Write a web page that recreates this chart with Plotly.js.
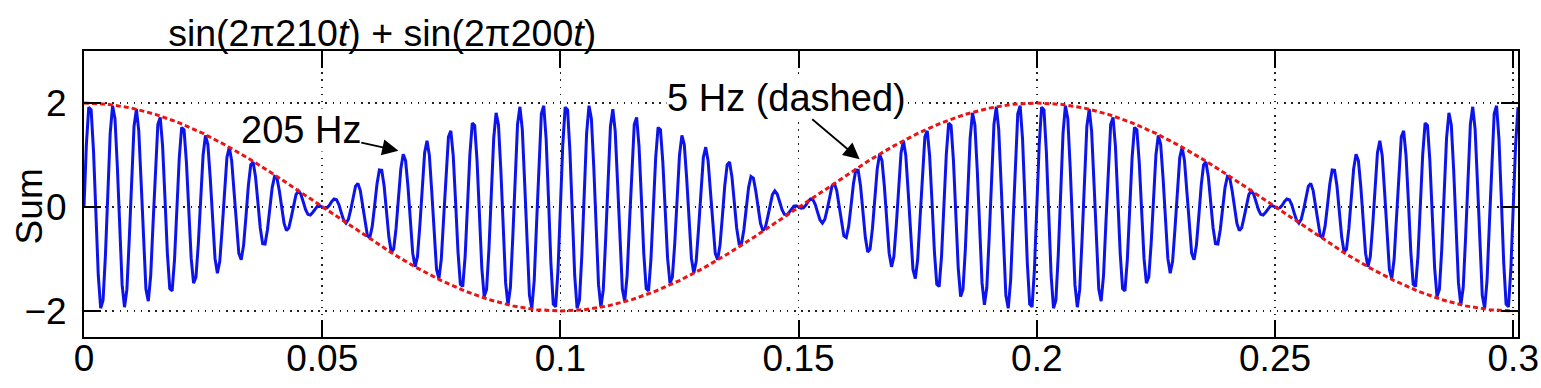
<!DOCTYPE html>
<html>
<head>
<meta charset="utf-8">
<script src="https://cdn.plot.ly/plotly-3.0.1.min.js"></script>
<style>html,body{margin:0;padding:0;background:#fff;}#chart{width:1541px;height:388px;}</style>
</head>
<body>
<div id="chart"></div>
<script>
const sumSeg1 = [
0, 1.201, 1.920, 1.869, 1.070, -0.156, -1.317, -1.947, -1.795, -0.927,
0.309, 1.415, 1.949, 1.701, 0.775, -0.454, -1.493, -1.927, -1.589, -0.619,
0.588, 1.548, 1.881, 1.460, 0.463, -0.707, -1.580, -1.812, -1.319, -0.309,
0.809, 1.587, 1.722, 1.169, 0.162, -0.891, -1.570, -1.612, -1.014, -0.026,
0.951, 1.529, 1.487, 0.857, -0.097, -0.988, -1.464, -1.348, -0.702, 0.202,
1.000, 1.378, 1.200, 0.554, -0.289, -0.988, -1.272, -1.045, -0.415, 0.353,
0.951, 1.150, 0.888, 0.290, -0.395, -0.891, -1.014, -0.733, -0.181, 0.412,
0.809, 0.867, 0.583, 0.090, -0.404, -0.707, -0.713, -0.442, -0.021, 0.373,
0.588, 0.556, 0.314, -0.025, -0.317, -0.454, -0.400, -0.201, 0.047, 0.239,
0.309, 0.249, 0.107, -0.045, -0.141, -0.156, -0.106, -0.033, 0.017, 0.025,
0, -0.025, -0.017, 0.033, 0.106, 0.156, 0.141, 0.045, -0.107, -0.249,
-0.309, -0.239, -0.047, 0.201, 0.400, 0.454, 0.317, 0.025, -0.314, -0.556,
-0.588, -0.373, 0.021, 0.442, 0.713, 0.707, 0.404, -0.090, -0.583, -0.867,
-0.809, -0.412, 0.181, 0.733, 1.014, 0.891, 0.395, -0.290, -0.888, -1.150,
-0.951, -0.353, 0.415, 1.045, 1.272, 0.988, 0.289, -0.554, -1.200, -1.378,
-1.000, -0.202, 0.702, 1.348, 1.464, 0.988, 0.097, -0.857, -1.487, -1.529,
-0.951, 0.026, 1.014, 1.612, 1.570, 0.891, -0.162, -1.169, -1.722, -1.587,
-0.809, 0.309, 1.319, 1.812, 1.580, 0.707, -0.463, -1.460, -1.881, -1.548,
-0.588, 0.619, 1.589, 1.927, 1.493, 0.454, -0.775, -1.701, -1.949, -1.415,
-0.309, 0.927, 1.795, 1.947, 1.317, 0.156, -1.070, -1.869, -1.920, -1.201
];
// t = 0.1 ... 0.2 s
const sumSeg2 = [
0, 1.201, 1.920, 1.869, 1.070, -0.156, -1.317, -1.947, -1.795, -0.927,
0.309, 1.415, 1.949, 1.701, 0.775, -0.454, -1.493, -1.927, -1.589, -0.619,
0.588, 1.548, 1.881, 1.460, 0.463, -0.707, -1.580, -1.812, -1.319, -0.309,
0.809, 1.587, 1.722, 1.169, 0.162, -0.891, -1.570, -1.612, -1.014, -0.026,
0.951, 1.529, 1.487, 0.857, -0.097, -0.988, -1.464, -1.348, -0.702, 0.202,
1.000, 1.378, 1.200, 0.554, -0.289, -0.988, -1.272, -1.045, -0.415, 0.353,
0.951, 1.150, 0.888, 0.290, -0.395, -0.891, -1.014, -0.733, -0.181, 0.412,
0.809, 0.867, 0.583, 0.090, -0.404, -0.707, -0.713, -0.442, -0.021, 0.373,
0.588, 0.556, 0.314, -0.025, -0.317, -0.454, -0.400, -0.201, 0.047, 0.239,
0.309, 0.249, 0.107, -0.045, -0.141, -0.156, -0.106, -0.033, 0.017, 0.025,
0, -0.025, -0.017, 0.033, 0.106, 0.156, 0.141, 0.045, -0.107, -0.249,
-0.309, -0.239, -0.047, 0.201, 0.400, 0.454, 0.317, 0.025, -0.314, -0.556,
-0.588, -0.373, 0.021, 0.442, 0.713, 0.707, 0.404, -0.090, -0.583, -0.867,
-0.809, -0.412, 0.181, 0.733, 1.014, 0.891, 0.395, -0.290, -0.888, -1.150,
-0.951, -0.353, 0.415, 1.045, 1.272, 0.988, 0.289, -0.554, -1.200, -1.378,
-1.000, -0.202, 0.702, 1.348, 1.464, 0.988, 0.097, -0.857, -1.487, -1.529,
-0.951, 0.026, 1.014, 1.612, 1.570, 0.891, -0.162, -1.169, -1.722, -1.587,
-0.809, 0.309, 1.319, 1.812, 1.580, 0.707, -0.463, -1.460, -1.881, -1.548,
-0.588, 0.619, 1.589, 1.927, 1.493, 0.454, -0.775, -1.701, -1.949, -1.415,
-0.309, 0.927, 1.795, 1.947, 1.317, 0.156, -1.070, -1.869, -1.920, -1.201
];
// t = 0.2 ... 0.301 s
const sumSeg3 = [
0, 1.201, 1.920, 1.869, 1.070, -0.156, -1.317, -1.947, -1.795, -0.927,
0.309, 1.415, 1.949, 1.701, 0.775, -0.454, -1.493, -1.927, -1.589, -0.619,
0.588, 1.548, 1.881, 1.460, 0.463, -0.707, -1.580, -1.812, -1.319, -0.309,
0.809, 1.587, 1.722, 1.169, 0.162, -0.891, -1.570, -1.612, -1.014, -0.026,
0.951, 1.529, 1.487, 0.857, -0.097, -0.988, -1.464, -1.348, -0.702, 0.202,
1.000, 1.378, 1.200, 0.554, -0.289, -0.988, -1.272, -1.045, -0.415, 0.353,
0.951, 1.150, 0.888, 0.290, -0.395, -0.891, -1.014, -0.733, -0.181, 0.412,
0.809, 0.867, 0.583, 0.090, -0.404, -0.707, -0.713, -0.442, -0.021, 0.373,
0.588, 0.556, 0.314, -0.025, -0.317, -0.454, -0.400, -0.201, 0.047, 0.239,
0.309, 0.249, 0.107, -0.045, -0.141, -0.156, -0.106, -0.033, 0.017, 0.025,
0, -0.025, -0.017, 0.033, 0.106, 0.156, 0.141, 0.045, -0.107, -0.249,
-0.309, -0.239, -0.047, 0.201, 0.400, 0.454, 0.317, 0.025, -0.314, -0.556,
-0.588, -0.373, 0.021, 0.442, 0.713, 0.707, 0.404, -0.090, -0.583, -0.867,
-0.809, -0.412, 0.181, 0.733, 1.014, 0.891, 0.395, -0.290, -0.888, -1.150,
-0.951, -0.353, 0.415, 1.045, 1.272, 0.988, 0.289, -0.554, -1.200, -1.378,
-1.000, -0.202, 0.702, 1.348, 1.464, 0.988, 0.097, -0.857, -1.487, -1.529,
-0.951, 0.026, 1.014, 1.612, 1.570, 0.891, -0.162, -1.169, -1.722, -1.587,
-0.809, 0.309, 1.319, 1.812, 1.580, 0.707, -0.463, -1.460, -1.881, -1.548,
-0.588, 0.619, 1.589, 1.927, 1.493, 0.454, -0.775, -1.701, -1.949, -1.415,
-0.309, 0.927, 1.795, 1.947, 1.317, 0.156, -1.070, -1.869, -1.920, -1.201,
0, 1.201, 1.920
];
const sumStart = 0, sumStep = 0.0005;

// 5 Hz envelope (dashed), 5 ms spacing
const envValues = [
2, 1.975, 1.902, 1.782, 1.618, 1.414, 1.176, 0.908, 0.618, 0.313,
0, -0.313, -0.618, -0.908, -1.176, -1.414, -1.618, -1.782, -1.902, -1.975,
-2, -1.975, -1.902, -1.782, -1.618, -1.414, -1.176, -0.908, -0.618, -0.313,
0, 0.313, 0.618, 0.908, 1.176, 1.414, 1.618, 1.782, 1.902, 1.975,
2, 1.975, 1.902, 1.782, 1.618, 1.414, 1.176, 0.908, 0.618, 0.313,
0, -0.313, -0.618, -0.908, -1.176, -1.414, -1.618, -1.782, -1.902, -1.975,
-2
];
const envStart = 0, envStep = 0.005;

const xTickVals = [0, 0.05, 0.1, 0.15, 0.2, 0.25, 0.3];
const xTickText = ['0', '0.05', '0.1', '0.15', '0.2', '0.25', '0.3'];
const yTickVals = [-2, 0, 2];
const yTickText = ['\u22122', '0', '2'];

const FONT = 'Liberation Sans, Arial, Helvetica, sans-serif';
const sumValues = sumSeg1.concat(sumSeg2, sumSeg3);

const traces = [
  {type: 'scatter', mode: 'lines', x0: sumStart, dx: sumStep, y: sumValues,
   line: {color: 'rgb(12,20,235)', width: 3}, hoverinfo: 'skip', showlegend: false},
  {type: 'scatter', mode: 'lines', x0: envStart, dx: envStep, y: envValues,
   line: {color: 'rgb(235,20,20)', width: 3, dash: '5px,3px'}, hoverinfo: 'skip', showlegend: false}
];

const axisCommon = {
  showline: true, linecolor: '#000', linewidth: 2, mirror: 'allticks',
  ticks: 'inside', ticklen: 17, tickwidth: 2, tickcolor: '#000',
  showgrid: true, gridcolor: '#222', gridwidth: 1.6, griddash: '1.6px,5.5px',
  zeroline: false, tickfont: {family: FONT, size: 37, color: '#000'}
};

const layout = {
  width: 1541, height: 388,
  margin: {l: 84, r: 23, t: 51, b: 51},
  paper_bgcolor: '#fff', plot_bgcolor: '#fff',
  title: {text: 'sin(2\u03c0210<i>t</i>) + sin(2\u03c0200<i>t</i>)',
          xref: 'container', x: 0.248, xanchor: 'center',
          yref: 'container', y: 0.915, yanchor: 'middle',
          font: {family: FONT, size: 37.5, color: '#000'}},
  xaxis: Object.assign({}, axisCommon, {range: [0, 0.301], tickmode: 'array', tickvals: xTickVals, ticktext: xTickText, ticklabelstandoff: -12}),
  yaxis: Object.assign({}, axisCommon, {range: [-2.5, 3], tickmode: 'array', tickvals: yTickVals, ticktext: yTickText, ticklabelstandoff: 8}),
  annotations: [
    {xref: 'paper', yref: 'paper', x: -0.038, y: 0.455, text: 'Sum', textangle: -90,
     showarrow: false, xanchor: 'center', yanchor: 'middle', font: {family: FONT, size: 37, color: '#000'}},
    {xref: 'x', yref: 'y', x: 0.0660, y: 1.08, axref: 'x', ayref: 'y', ax: 0.0455, ay: 1.49,
     text: '205 Hz', showarrow: true, arrowhead: 2, arrowsize: 1.8, arrowwidth: 1.8, arrowcolor: '#000',
     bgcolor: '#fff', borderpad: 0, font: {family: FONT, size: 38, color: '#000'}},
    {xref: 'x', yref: 'y', x: 0.1628, y: 0.92, axref: 'x', ayref: 'y', ax: 0.1475, ay: 2.1,
     text: '5 Hz (dashed)', showarrow: true, arrowhead: 2, arrowsize: 1.8, arrowwidth: 1.8, arrowcolor: '#000',
     bgcolor: '#fff', borderpad: 0, font: {family: FONT, size: 38, color: '#000'}}
  ]
};

Plotly.newPlot('chart', traces, layout, {displayModeBar: false, staticPlot: true});
</script>
</body>
</html>
